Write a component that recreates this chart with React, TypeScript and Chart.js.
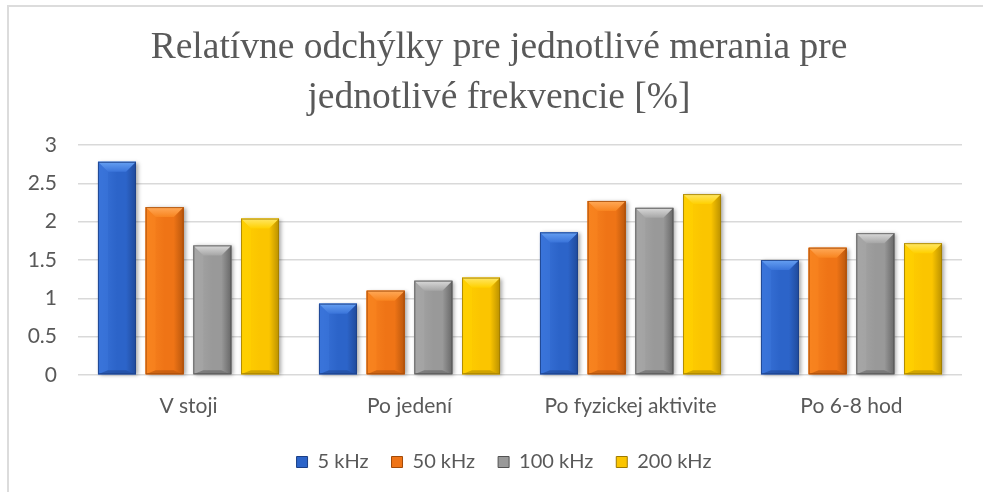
import React, { useEffect, useRef } from "react";
import { Chart, registerables } from "chart.js";

Chart.register(...registerables);

// ---- data ----
const categories = ["V stoji", "Po jedení", "Po fyzickej aktivite", "Po 6-8 hod"];
const seriesNames = ["5 kHz", "50 kHz", "100 kHz", "200 kHz"];
const values5kHz = [2.78, 0.93, 1.86, 1.5];
const values50kHz = [2.19, 1.1, 2.27, 1.66];
const values100kHz = [1.69, 1.23, 2.18, 1.85];
const values200kHz = [2.04, 1.27, 2.36, 1.72];
const titleLines = ["Relatívne odchýlky pre jednotlivé merania pre", "jednotlivé frekvencie [%]"];
const yTickLabels = ["0", "0.5", "1", "1.5", "2", "2.5", "3"];
const yMin = 0;
const yMax = 3;
const yStep = 0.5;

// ---- styles ----
const palettes = [
  { base: "#2c64c9", light: "#66a0f2", mid: "#3a74da", dark: "#1b3f86" },
  { base: "#ef7416", light: "#ffaa5a", mid: "#f8841f", dark: "#a24a08" },
  { base: "#999999", light: "#dadada", mid: "#a6a6a6", dark: "#525252" },
  { base: "#fbc500", light: "#ffe766", mid: "#ffd000", dark: "#9e7a00" },
];
const TEXT = "#595959";
const SANS = "Lato, 'Liberation Sans', sans-serif";

const bevelPlugin = {
  id: "bevel",
  afterDatasetsDraw(chart: any) {
    const ctx = chart.ctx as CanvasRenderingContext2D;
    chart.data.datasets.forEach((_ds: any, di: number) => {
      const meta = chart.getDatasetMeta(di);
      if (meta.hidden) return;
      const pal = palettes[di];
      meta.data.forEach((el: any) => {
        const { x, y, base, width } = el.getProps(["x", "y", "base", "width"], true);
        const x0 = x - width / 2;
        const x1 = x + width / 2;
        const top = Math.min(y, base);
        const bot = Math.max(y, base);
        const h = bot - top;
        const b = Math.min(10, h / 2, width / 3);
        ctx.save();
        ctx.shadowColor = "rgba(0,0,0,0.35)";
        ctx.shadowBlur = 4;
        ctx.shadowOffsetX = 2;
        ctx.shadowOffsetY = 1;
        ctx.fillStyle = pal.base;
        ctx.fillRect(x0, top, width, h);
        ctx.restore();

        ctx.save();
        const g = ctx.createLinearGradient(x0, 0, x1, 0);
        g.addColorStop(0, pal.mid);
        g.addColorStop(0.5, pal.base);
        g.addColorStop(1, pal.base);
        ctx.fillStyle = g;
        ctx.fillRect(x0, top, width, h);
        // left bevel
        ctx.beginPath();
        ctx.moveTo(x0, top);
        ctx.lineTo(x0 + b, top + b);
        ctx.lineTo(x0 + b, bot - b * 0.4);
        ctx.lineTo(x0, bot);
        ctx.closePath();
        ctx.fillStyle = pal.mid;
        ctx.globalAlpha = 0.6;
        ctx.fill();
        ctx.globalAlpha = 1;
        // right bevel
        ctx.beginPath();
        ctx.moveTo(x1, top);
        ctx.lineTo(x1 - b, top + b);
        ctx.lineTo(x1 - b, bot - b * 0.4);
        ctx.lineTo(x1, bot);
        ctx.closePath();
        const gr = ctx.createLinearGradient(x1 - b, 0, x1, 0);
        gr.addColorStop(0, pal.base);
        gr.addColorStop(1, pal.dark);
        ctx.fillStyle = gr;
        ctx.globalAlpha = 0.7;
        ctx.fill();
        ctx.globalAlpha = 1;
        // bottom bevel
        ctx.beginPath();
        ctx.moveTo(x0, bot);
        ctx.lineTo(x1, bot);
        ctx.lineTo(x1 - b, bot - b * 0.4);
        ctx.lineTo(x0 + b, bot - b * 0.4);
        ctx.closePath();
        ctx.fillStyle = pal.dark;
        ctx.globalAlpha = 0.45;
        ctx.fill();
        ctx.globalAlpha = 1;
        // top bevel
        ctx.beginPath();
        ctx.moveTo(x0, top);
        ctx.lineTo(x1, top);
        ctx.lineTo(x1 - b, top + b);
        ctx.lineTo(x0 + b, top + b);
        ctx.closePath();
        const gt = ctx.createLinearGradient(0, top, 0, top + b);
        gt.addColorStop(0, pal.light);
        gt.addColorStop(1, pal.mid);
        ctx.fillStyle = gt;
        ctx.fill();
        // outline
        ctx.strokeStyle = pal.dark;
        ctx.globalAlpha = 0.8;
        ctx.lineWidth = 1;
        ctx.strokeRect(x0 + 0.5, top + 0.5, width - 1, h - 1);
        ctx.restore();
      });
    });
  },
};

// shift title / legend boxes horizontally so their centres match the original
const centerShiftPlugin = {
  id: "centerShift",
  afterLayout(chart: any) {
    if (chart.titleBlock) {
      chart.titleBlock.left = 36;
    }
    if (chart.legend) {
      chart.legend.left = 46;
    }
  },
};

export default function App() {
  const canvasRef = useRef<HTMLCanvasElement | null>(null);

  useEffect(() => {
    document.body.style.margin = "0";
    const canvas = canvasRef.current;
    if (!canvas) return;
    const seriesValues = [values5kHz, values50kHz, values100kHz, values200kHz];
    const chart = new Chart(canvas, {
      type: "bar",
      data: {
        labels: categories,
        datasets: seriesNames.map((name, i) => ({
          label: name,
          data: seriesValues[i],
          backgroundColor: palettes[i].base,
          borderColor: palettes[i].dark,
          borderWidth: 0,
          categoryPercentage: 0.863,
          barPercentage: 0.797,
        })),
      },
      options: {
        animation: false,
        responsive: false,
        maintainAspectRatio: false,
        events: [],
        layout: { padding: { left: 0, right: 21, top: 0, bottom: 10 } },
        plugins: {
          tooltip: { enabled: false },
          title: {
            display: true,
            text: titleLines,
            color: TEXT,
            font: { family: "'Liberation Serif', 'Times New Roman', serif", size: 37.5, weight: "normal", lineHeight: 50 / 37.5 },
            padding: { top: 23, bottom: 22 },
          },
          legend: {
            position: "bottom",
            labels: {
              color: TEXT,
              font: { family: SANS, size: 20 },
              boxWidth: 11,
              boxHeight: 11,
              padding: 23,
              generateLabels: () =>
                seriesNames.map((name, i) => ({
                  text: name,
                  fillStyle: palettes[i].base,
                  strokeStyle: palettes[i].dark,
                  lineWidth: 1,
                  fontColor: TEXT,
                  hidden: false,
                  datasetIndex: i,
                })),
            },
          },
        },
        scales: {
          x: {
            grid: { display: false, drawTicks: false },
            border: { display: false },
            ticks: { color: TEXT, font: { family: SANS, size: 21 }, padding: 19 },
            afterFit: (s: any) => {
              s.height = 54;
            },
          },
          y: {
            min: yMin,
            max: yMax,
            grid: { color: "#d9d9d9", lineWidth: 1.5, drawTicks: false },
            border: { display: false },
            ticks: {
              stepSize: yStep,
              color: TEXT,
              font: { family: SANS, size: 21 },
              padding: 21,
              callback: (_v: any, idx: number) => yTickLabels[idx],
            },
            afterFit: (s: any) => {
              s.width = 78;
            },
          },
        },
      },
      plugins: [bevelPlugin, centerShiftPlugin],
    });
    return () => chart.destroy();
  }, []);

  return (
    <div style={{ position: "relative", width: 983, height: 492, overflow: "hidden", background: "#fff" }}>
      <canvas ref={canvasRef} width={983} height={492} style={{ display: "block", width: 983, height: 492 }} />
      <div
        style={{
          position: "absolute",
          left: 7,
          top: 5,
          width: 1200,
          height: 800,
          borderTop: "2px solid #dcdcdc",
          borderLeft: "2px solid #dcdcdc",
          pointerEvents: "none",
        }}
      />
    </div>
  );
}
